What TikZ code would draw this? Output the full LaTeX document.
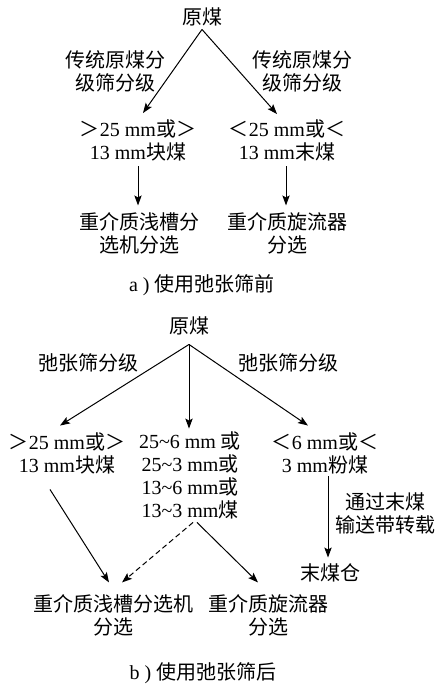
\documentclass[tikz,border=0pt]{standalone}
\usepackage{fontspec}
\setmainfont{Liberation Serif}
\newfontfamily\cjfont{Noto Sans CJK SC}
\newcommand\zh[1]{{\cjfont #1}}
\usetikzlibrary{arrows.meta,calc}
\begin{document}
\begin{tikzpicture}[x=0.75pt,y=-0.75pt,
  txt/.style={inner sep=0pt,align=center,font=\fontsize{15}{17.25}\selectfont},
  arr/.style={line width=0.75pt,-{Stealth[length=7.5pt,width=5.5pt,inset=1.5pt]}},
  darr/.style={arr,dash pattern=on 4pt off 2.5pt}]
\useasboundingbox (0,0) rectangle (438,688);
% ---- part a ----
\node[txt] (rawA) at (202,17) {\zh{原煤}};
\node[txt] (lblAL) at (115,71) {\zh{传统原煤分}\\\zh{级筛分级}};
\node[txt] (lblAR) at (302,71) {\zh{传统原煤分}\\\zh{级筛分级}};
\node[txt] (lumpA) at (138,140) {\zh{＞}25 mm\zh{或＞}\\13 mm\zh{块煤}};
\node[txt] (fineA) at (287,140) {\zh{＜}25 mm\zh{或＜}\\13 mm\zh{末煤}};
\node[txt] (dmsA) at (139,233.5) {\zh{重介质浅槽分}\\\zh{选机分选}};
\node[txt] (dmcA) at (287,233.5) {\zh{重介质旋流器}\\\zh{分选}};
\node[txt] (capA) at (202,285) {a )\hspace{4pt}\zh{使用弛张筛前}};
\coordinate (topA) at ($(rawA.south)+(0,3)$);
\draw[arr] (topA) -- ($(lumpA.north)+(5,-6)$);
\draw[arr] (topA) -- ($(fineA.north)+(-10,-5)$);
\draw[arr] ($(lumpA.south)+(0,5.5)$) -- ($(dmsA.north)+(-1,-7)$);
\draw[arr] ($(fineA.south)+(-1,5.5)$) -- ($(dmcA.north)+(-1,-7)$);
% ---- part b ----
\node[txt] (rawB) at (189,326) {\zh{原煤}};
\node[txt] (lblBL) at (88,363) {\zh{弛张筛分级}};
\node[txt] (lblBR) at (288,363) {\zh{弛张筛分级}};
\node[txt] (lumpB) at (67,453.5) {\zh{＞}25 mm\zh{或＞}\\13 mm\zh{块煤}};
\node[txt] (midB) at (190,475.5) {25\textasciitilde6 mm \zh{或}\\25\textasciitilde3 mm\zh{或}\\13\textasciitilde6 mm\zh{或}\\13\textasciitilde3 mm\zh{煤}};
\node[txt] (fineB) at (325,453.5) {\zh{＜}6 mm\zh{或＜}\\3 mm\zh{粉煤}};
\node[txt] (convB) at (385,513.5) {\zh{通过末煤}\\\zh{输送带转载}};
\node[txt] (binB) at (330,573) {\zh{末煤仓}};
\node[txt] (dmsB) at (113,615) {\zh{重介质浅槽分选机}\\\zh{分选}};
\node[txt] (dmcB) at (268,615) {\zh{重介质旋流器}\\\zh{分选}};
\node[txt] (capB) at (203,673) {b )\hspace{4pt}\zh{使用弛张筛后}};
\coordinate (topB) at ($(rawB.south)+(0,9)$);
\draw[arr] (topB) -- ($(lumpB.north)+(-7,-7)$);
\draw[arr] (topB) -- ($(midB.north)+(-1,-3)$);
\draw[arr] (topB) -- ($(fineB.north)+(-17,-7)$);
\draw[arr] ($(lumpB.south)+(-17,15)$) -- ($(dmsB.north)+(-4,-11.5)$);
\draw[darr] ($(midB.south)+(3,3)$) -- ($(dmsB.north)+(9,-11.5)$);
\draw[arr] ($(midB.south)+(7,3)$) -- ($(dmcB.north)+(-10,-11.5)$);
\draw[arr] ($(fineB.south)+(3,2)$) -- ($(binB.north)+(-2,-6)$);
\end{tikzpicture}
\end{document}
